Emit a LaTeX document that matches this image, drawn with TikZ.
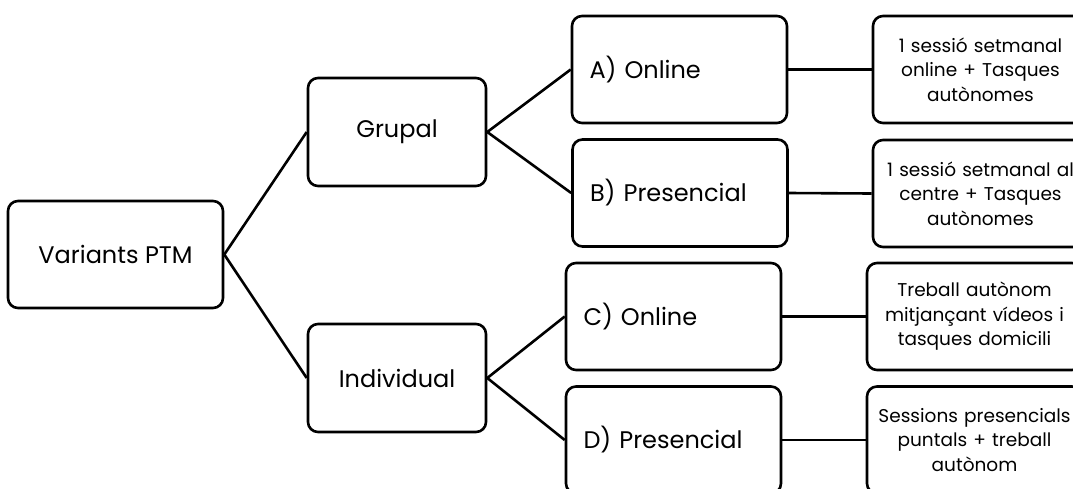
\documentclass[tikz,border=0pt]{standalone}
\usepackage{fontspec}
\setmainfont{Poppins}
\usepackage{tikz}

\begin{document}
\begin{tikzpicture}[x=1pt, y=-1pt, line width=2.6pt, box/.style={draw, rounded corners=10pt, minimum width=215pt, minimum height=107pt, font=\fontsize{24}{28}\selectfont}, mid/.style={box, minimum width=178pt, minimum height=108pt}, opt/.style={box, text width=180pt, inner xsep=17.5pt, align=left}, leaf/.style={box, text width=215pt, inner xsep=0pt, align=center, font=\fontsize{18.5}{24.5}\selectfont}]
\useasboundingbox (0,0) rectangle (1073,488);
\clip (0,0) rectangle (1073,488);
\node[box] (PTM) at (115.5,254.5) {Variants PTM};
\node[mid] (G) at (397,132) {Grupal};
\node[mid] (I) at (397,378) {Individual};
\node[opt] (A) at (679.5,69.5) {A) Online};
\node[opt] (B) at (680,193) {B) Presencial};
\node[opt] (C) at (673.5,316.5) {C) Online};
\node[opt] (D) at (673.5,440) {D) Presencial};
\node[leaf] (A2) at (980.5,69.5) {1 sessió setmanal\\online + Tasques\\autònomes};
\node[leaf] (B2) at (980.5,193.5) {1 sessió setmanal al\\centre + Tasques\\autònomes};
\node[leaf] (C2) at (974.5,316.5) {Treball autònom\\mitjançant vídeos i\\tasques domicili};
\node[leaf] (D2) at (974.5,440) {Sessions presencials\\puntals + treball\\autònom};
\draw (PTM.east) -- (G.west);
\draw (PTM.east) -- (I.west);
\draw (G.east) -- (A.west);
\draw (G.east) -- (B.west);
\draw (I.east) -- (C.west);
\draw (I.east) -- (D.west);
\draw (A.east) -- (A2.west);
\draw (B.east) -- (B2.west);
\draw (C.east) -- (C2.west);
\draw (D.east) -- (D2.west);
\end{tikzpicture}
\end{document}
